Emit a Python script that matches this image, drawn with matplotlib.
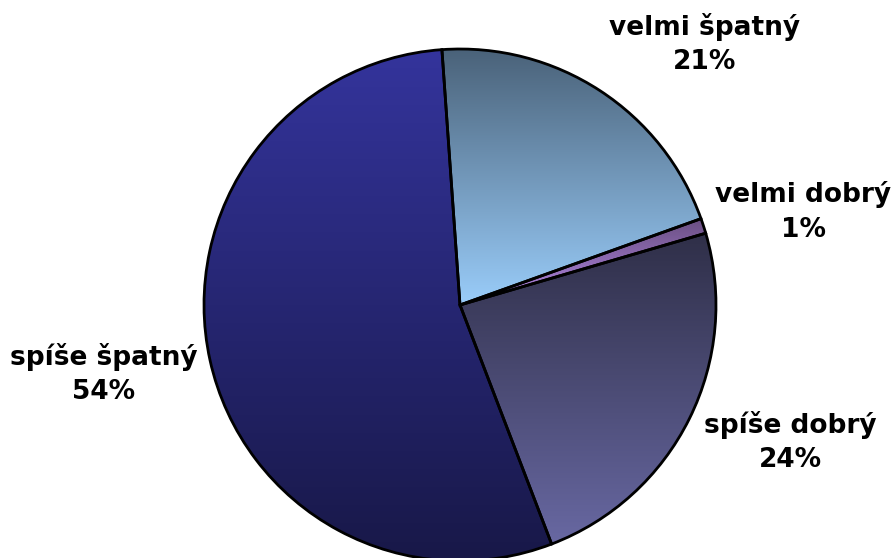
import numpy as np
import matplotlib.pyplot as plt
from matplotlib.colors import LinearSegmentedColormap

# data
labels = ["velmi špatný", "velmi dobrý", "spíše dobrý", "spíše špatný"]
pct_labels = ["21%", "1%", "24%", "54%"]
# slice sizes (labels show rounded values)
shares = [20.65, 0.95, 23.7, 54.7]
# gradient colours per slice (top, bottom)
grad_top = ["#4a6279", "#6a4f82", "#2f2f48", "#34349c"]
grad_bottom = ["#9acdfa", "#b488e6", "#6868a2", "#181848"]
# label anchor points (pixel coords, from top-left)
label_pos = [(705, 44), (803, 212), (790, 442), (104, 374)]

W, H = 894, 558
fig = plt.figure(figsize=(W / 100, H / 100), dpi=100)
ax = fig.add_axes([0, 0, 1, 1])

cx, cy, r = 460, H - 305, 256
wedges, _ = ax.pie(shares, center=(cx, cy), radius=r, startangle=94.05,
                   counterclock=False, frame=True,
                   wedgeprops=dict(edgecolor="black", linewidth=2.0))
ax.set_xlim(0, W)
ax.set_ylim(0, H)
ax.set_aspect("equal")
ax.axis("off")

for w, c1, c2 in zip(wedges, grad_top, grad_bottom):
    w.set_facecolor("none")
    w.set_zorder(3)
    bb = w.get_path().get_extents(w.get_transform())
    bb = bb.transformed(ax.transData.inverted())
    cmap = LinearSegmentedColormap.from_list("g", [c2, c1])
    grad = np.linspace(0, 1, 256).reshape(-1, 1)
    im = ax.imshow(grad, cmap=cmap, origin="lower", aspect="auto",
                   extent=[bb.x0, bb.x1, bb.y0, bb.y1], zorder=2)
    im.set_clip_path(w)

ax.set_xlim(0, W)
ax.set_ylim(0, H)

for lab, p, (px, py) in zip(labels, pct_labels, label_pos):
    ax.text(px, H - py, f"{lab}\n{p}", ha="center", va="center",
            fontsize=19, fontweight="bold", family="DejaVu Sans",
            linespacing=1.42, zorder=5)

fig.savefig("out.png", dpi=100)
